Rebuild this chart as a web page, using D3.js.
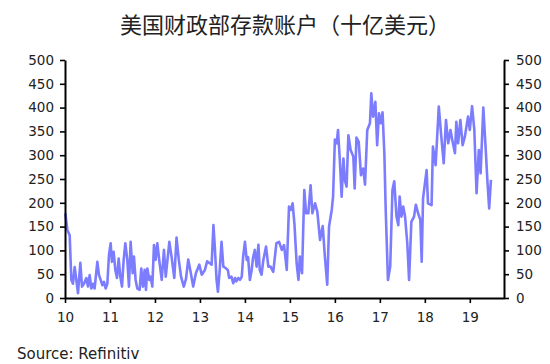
<!DOCTYPE html>
<html>
<head>
<meta charset="utf-8">
<script src="https://cdn.jsdelivr.net/npm/d3@7"></script>
<style>
  body { margin: 0; background: #fff; }
  svg text { fill: #222; }
</style>
</head>
<body>
<svg id="chart" width="550" height="364"></svg>
<script>
// Treasury General Account balance, US$ bn
const years = [
  2010.007, 2010.052, 2010.104, 2010.141, 2010.178, 2010.215, 2010.252, 2010.289, 2010.341, 2010.378,
  2010.422, 2010.474, 2010.511, 2010.548, 2010.585, 2010.622, 2010.659, 2010.719, 2010.756, 2010.793,
  2010.830, 2010.867, 2010.904, 2010.941, 2010.978,
  2011.015, 2011.044, 2011.081, 2011.119, 2011.156, 2011.193, 2011.230, 2011.267, 2011.304, 2011.341,
  2011.385, 2011.422, 2011.459, 2011.504, 2011.533, 2011.570, 2011.607, 2011.659, 2011.696, 2011.733,
  2011.770, 2011.800, 2011.830, 2011.874, 2011.904, 2011.941, 2011.978,
  2012.015, 2012.052, 2012.100, 2012.150, 2012.200, 2012.240, 2012.320, 2012.370, 2012.430, 2012.480,
  2012.530, 2012.580, 2012.640, 2012.690, 2012.740, 2012.790, 2012.850, 2012.910, 2012.985,
  2013.040, 2013.110, 2013.160, 2013.220, 2013.260, 2013.300, 2013.330, 2013.370, 2013.400, 2013.440,
  2013.480, 2013.520, 2013.570, 2013.620, 2013.650, 2013.700, 2013.740, 2013.780, 2013.810, 2013.850,
  2013.890, 2013.930, 2013.960,
  2014.000, 2014.040, 2014.070, 2014.110, 2014.150, 2014.180, 2014.220, 2014.260, 2014.300, 2014.330,
  2014.370, 2014.410, 2014.470, 2014.520, 2014.570, 2014.630, 2014.700, 2014.760, 2014.820, 2014.870,
  2014.930, 2014.980,
  2015.020, 2015.060, 2015.100, 2015.150, 2015.190, 2015.220, 2015.270, 2015.320, 2015.360, 2015.410,
  2015.460, 2015.500, 2015.560, 2015.610, 2015.670, 2015.730, 2015.780, 2015.830, 2015.870, 2015.930,
  2015.960,
  2016.000, 2016.040, 2016.070, 2016.110, 2016.150, 2016.190, 2016.220, 2016.260, 2016.300, 2016.350,
  2016.410, 2016.440, 2016.480, 2016.530, 2016.580, 2016.630, 2016.670, 2016.720, 2016.780, 2016.810,
  2016.850, 2016.900, 2016.940, 2016.980,
  2017.020, 2017.060, 2017.100, 2017.130, 2017.180, 2017.230, 2017.280, 2017.320, 2017.370, 2017.410,
  2017.440, 2017.480, 2017.520, 2017.560, 2017.610, 2017.650, 2017.700, 2017.760, 2017.800, 2017.850,
  2017.900, 2017.930, 2017.960,
  2018.040, 2018.070, 2018.150, 2018.180, 2018.240, 2018.310, 2018.370, 2018.420, 2018.470, 2018.520,
  2018.570, 2018.610, 2018.670, 2018.700, 2018.740, 2018.790, 2018.840, 2018.890, 2018.960,
  2019.000, 2019.050, 2019.100, 2019.150, 2019.200, 2019.240, 2019.300, 2019.350, 2019.390, 2019.430,
  2019.470
];
const balance = [
  178, 143, 132, 38, 30, 65, 38, 10, 74, 24,
  30, 42, 24, 48, 20, 30, 20, 76, 48, 38,
  27, 34, 20, 30, 90,
  115, 76, 97, 59, 42, 83, 45, 24, 80, 115,
  80, 24, 118, 52, 87, 38, 20, 17, 62, 24,
  59, 17, 62, 38, 45, 24, 111,
  80, 115, 76, 38, 101, 45, 118, 86, 42, 127,
  80, 45, 24, 40, 81, 56, 24, 52, 70,
  49, 59, 77, 73, 70, 153, 108, 38, 13, 59,
  118, 66, 63, 59, 42, 45, 31, 42, 35, 42,
  38, 45, 86,
  118, 80, 86, 38, 59, 84, 101, 66, 112, 59,
  49, 80, 108, 66, 66, 55, 115, 118, 101, 111,
  59, 192,
  185, 199, 157, 73, 38, 87, 52, 227, 178, 178,
  237, 178, 199, 181, 122, 151, 84, 28, 150, 185,
  213,
  333, 325, 353, 290, 213, 293, 248, 234, 342, 311,
  297, 230, 337, 328, 258, 272, 238, 353, 367, 430,
  381, 412, 321, 388,
  367, 390, 304, 185, 38, 66, 227, 245, 171, 153,
  213, 171, 192, 171, 115, 38, 160, 171, 196, 178,
  164, 76, 209,
  269, 199, 195, 318, 279, 402, 335, 283, 374, 325,
  353, 332, 304, 370, 325, 374, 321, 339, 381,
  353, 403, 353, 220, 311, 262, 400, 318, 248, 188,
  248
];
const yearTicks = [2010, 2011, 2012, 2013, 2014, 2015, 2016, 2017, 2018, 2019];
const valueTicks = [0, 50, 100, 150, 200, 250, 300, 350, 400, 450, 500];

const title = '美国财政部存款账户（十亿美元）';
const source = 'Source: Refinitiv';

const svg = d3.select('#chart');
const margin = { top: 60, right: 46, bottom: 66, left: 65 };
const width = 550 - margin.left - margin.right;
const height = 364 - margin.top - margin.bottom;
const font = '"DejaVu Sans", sans-serif';

const x = d3.scaleLinear().domain([2010, 2019.76]).range([0, width]);
const y = d3.scaleLinear().domain([0, 500]).range([height, 0]);

const g = svg.append('g').attr('transform', `translate(${margin.left},${margin.top})`);

const line = d3.line()
  .x((d, i) => x(years[i]))
  .y(d => y(d));

g.append('path')
  .datum(balance)
  .attr('fill', 'none')
  .attr('stroke', '#7c7cff')
  .attr('stroke-width', 2.6)
  .attr('stroke-linejoin', 'round')
  .attr('d', line);

function styleAxis(sel) {
  sel.select('.domain').attr('stroke', '#000').attr('stroke-width', 2);
  sel.selectAll('.tick line').attr('stroke', '#000').attr('stroke-width', 1.6);
  sel.selectAll('.tick text').attr('font-family', font).attr('font-size', 13.5).attr('fill', '#222');
}

g.append('g')
  .call(d3.axisLeft(y).tickValues(valueTicks).tickSize(5).tickPadding(6).tickSizeOuter(0))
  .call(styleAxis);

g.append('g')
  .attr('transform', `translate(${width},0)`)
  .call(d3.axisRight(y).tickValues(valueTicks).tickSize(5).tickPadding(7).tickSizeOuter(0))
  .call(styleAxis);

g.append('g')
  .attr('transform', `translate(0,${height})`)
  .call(d3.axisBottom(x).tickValues(yearTicks).tickFormat(d => d - 2000)
    .tickSize(5).tickPadding(9).tickSizeOuter(0))
  .call(styleAxis);

svg.append('text')
  .attr('x', 285).attr('y', 33)
  .attr('text-anchor', 'middle')
  .attr('font-family', '"Noto Sans CJK SC", sans-serif')
  .attr('font-size', 22)
  .text(title);

svg.append('text')
  .attr('x', 17).attr('y', 359)
  .attr('font-family', font)
  .attr('font-size', 15)
  .text(source);
</script>
</body>
</html>
